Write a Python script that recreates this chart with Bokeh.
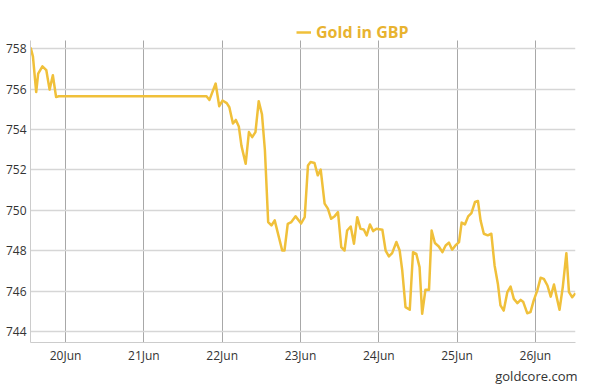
import pandas as pd
from bokeh.plotting import figure
from bokeh.models import (Range1d, FixedTicker, DatetimeTickFormatter, Legend,
                          LegendItem, Title, ColumnDataSource)
from bokeh.embed import file_html
from bokeh.resources import INLINE

# ---- data ----
base_time = "2015-06-20 00:00"
hours = [-10.7, -10.0, -9.0, -8.4, -7.1, -5.9, -4.9, -3.9, -2.9, -2.1,
         43.2, 44.1, 46.0, 47.1, 48.1, 49.4, 50.2, 51.3, 52.2, 53.1,
         53.9, 55.2, 56.2, 57.2, 58.2, 59.2, 60.2, 61.1, 62.1, 63.1,
         64.1, 66.4, 67.1, 68.1, 69.2, 70.5, 72.2, 73.3, 74.3, 75.1,
         76.3, 77.3, 78.2, 79.4, 80.4, 81.4, 82.5, 83.5, 84.5, 85.5,
         86.3, 87.4, 88.4, 89.4, 90.4, 91.4, 92.3, 93.3, 94.3, 95.3,
         97.1, 98.1, 99.1, 100.1, 101.4, 102.4, 103.2, 104.2, 105.5, 106.5,
         107.5, 108.5, 109.3, 110.3, 111.4, 112.2, 113.2, 114.4, 115.5, 116.5,
         117.5, 118.5, 119.5, 120.6, 121.4, 122.4, 123.4, 124.4, 125.5, 126.4,
         127.2, 128.2, 129.4, 130.5, 131.5, 132.5, 133.3, 134.3, 135.4, 136.4,
         137.4, 138.5, 139.5, 140.3, 141.5, 142.5, 143.5, 144.6, 145.6, 146.6,
         147.7, 148.7, 149.7, 150.5, 151.4, 152.4, 153.5, 154.3, 155.3, 156.3]
gold_gbp = [758.05, 757.6, 755.85, 756.76, 757.12, 756.93, 755.97, 756.68, 755.6, 755.64,
            755.64, 755.46, 756.27, 755.15, 755.43, 755.3, 755.1, 754.29, 754.47, 754.15,
            753.2, 752.3, 753.87, 753.62, 753.87, 755.4, 754.75, 752.97, 749.42, 749.25,
            749.5, 748.01, 748.01, 749.33, 749.42, 749.7, 749.35, 749.66, 752.22, 752.39,
            752.34, 751.73, 752.01, 750.33, 750.08, 749.58, 749.71, 749.91, 748.18, 748.01,
            749.0, 749.2, 748.35, 749.66, 749.08, 749.05, 748.76, 749.3, 748.97, 749.09,
            749.04, 748.01, 747.72, 747.88, 748.43, 748.01, 747.02, 745.21, 745.08, 747.93,
            747.85, 747.19, 744.88, 746.07, 746.07, 749.0, 748.38, 748.21, 747.93, 748.26,
            748.4, 748.05, 748.26, 748.43, 749.39, 749.3, 749.7, 749.86, 750.41, 750.46,
            749.5, 748.84, 748.76, 748.84, 747.27, 746.37, 745.3, 745.04, 745.95, 746.23,
            745.62, 745.41, 745.57, 745.46, 744.91, 744.96, 745.54, 746.04, 746.66, 746.61,
            746.28, 745.73, 746.33, 745.73, 745.08, 746.2, 747.88, 745.95, 745.7, 745.9]
tick_days = ["2015-06-20", "2015-06-21", "2015-06-22", "2015-06-23",
             "2015-06-24", "2015-06-25", "2015-06-26"]
y_ticks = [744, 746, 748, 750, 752, 754, 756, 758]
series_name = "Gold in GBP"
source_note = "goldcore.com"

base = pd.Timestamp(base_time)
times = [(base + pd.Timedelta(hours=h)).to_pydatetime() for h in hours]
src = ColumnDataSource(data=dict(t=times, v=gold_gbp))

FONT = "Open Sans"
GOLD = "#F0C03A"

x_start = (base + pd.Timedelta(hours=-10.75)).to_pydatetime()
x_end = (base + pd.Timedelta(hours=156.3)).to_pydatetime()
y_lo, y_hi = 743.46, 758.41   # visible plot box
y_top = 759.29                # extra room above the box for the legend

p = figure(frame_width=545, frame_height=320, x_axis_type="datetime",
           output_backend="svg", toolbar_location=None,
           x_range=Range1d(x_start, x_end),
           y_range=Range1d(y_lo, y_top),
           min_border_left=30, min_border_right=16, min_border_top=22, min_border_bottom=44)
p.outline_line_color = None

# axes
p.xaxis.ticker = FixedTicker(ticks=[pd.Timestamp(d).value / 1e6 for d in tick_days])
fmt = "%d%b"
p.xaxis.formatter = DatetimeTickFormatter(days=fmt, hours=fmt, months=fmt, hourmin=fmt,
                                          minutes=fmt, years=fmt)
p.yaxis.ticker = FixedTicker(ticks=y_ticks)
for ax in (p.xaxis, p.yaxis):
    ax.major_tick_line_color = None
    ax.minor_tick_line_color = None
    ax.major_tick_out = 0
    ax.major_tick_in = 0
    ax.minor_tick_out = 0
    ax.minor_tick_in = 0
    ax.axis_line_color = "#cccccc"
    ax.major_label_text_font = FONT
    ax.major_label_text_font_size = "12px"
    ax.major_label_text_color = "#333333"
p.yaxis.major_label_standoff = 4
p.xaxis.major_label_standoff = 4
p.yaxis.bounds = (y_lo, y_hi)

p.ygrid.grid_line_color = "#d6d6d6"
p.ygrid.grid_line_width = 1.6
p.xgrid.grid_line_color = "#a8a8a8"
p.xgrid.grid_line_width = 1
try:
    p.xgrid.cross_bounds = (y_lo, y_hi)
except Exception:
    # older API: draw the day lines as segments over the plot box instead
    p.xgrid.grid_line_color = None
    day_x = [pd.Timestamp(d).to_pydatetime() for d in tick_days]
    p.segment(x0=day_x, x1=day_x, y0=[y_lo] * len(day_x), y1=[y_hi] * len(day_x),
              line_color="#a8a8a8", line_width=1)

r = p.line("t", "v", source=src, line_color=GOLD, line_width=2.5, line_join="round")

# legend just above the plot box
legend = Legend(items=[LegendItem(label=series_name, renderers=[r])],
                location=(266, 299), orientation="horizontal",
                border_line_color=None, background_fill_alpha=0,
                padding=0, margin=0, glyph_width=15, glyph_height=14,
                label_standoff=5, label_text_font=FONT, label_text_font_size="16px",
                label_text_font_style="bold", label_text_color="#E8B330")
p.add_layout(legend, "center")

# source credit
p.add_layout(Title(text=source_note, align="right", text_font=FONT,
                   text_font_size="13px", text_font_style="normal",
                   text_color="#333333", standoff=-3, offset=-2), "below")

open("out.html", "w").write(file_html(p, INLINE))
